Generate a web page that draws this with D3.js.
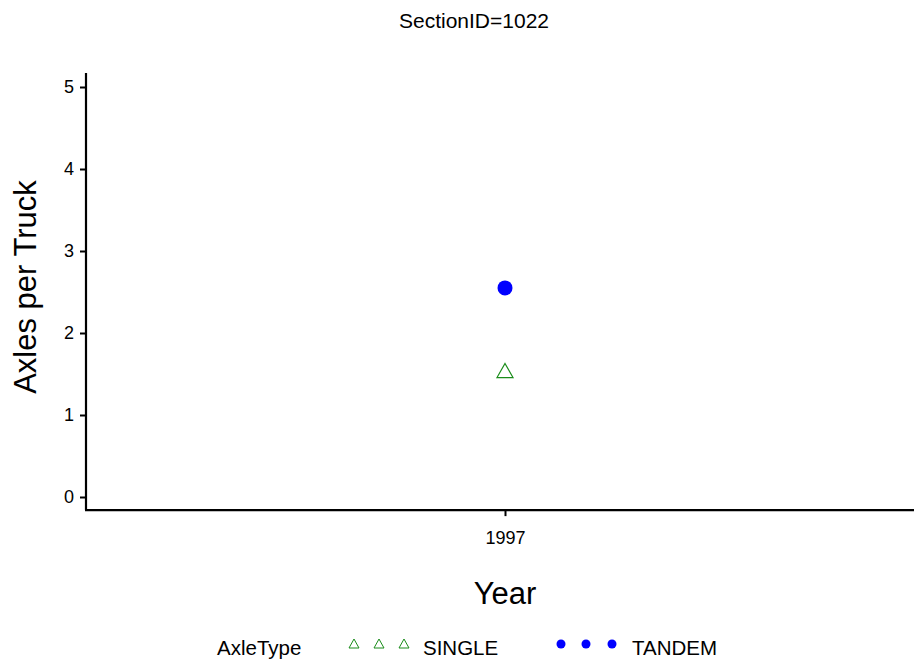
<!DOCTYPE html>
<html>
<head>
<meta charset="utf-8">
<script src="https://cdn.jsdelivr.net/npm/d3@7"></script>
<style>
  body { margin: 0; background: #fff; }
  svg { display: block; font-family: "Liberation Sans", Arial, sans-serif; }
</style>
</head>
<body>
<svg id="chart" width="914" height="663"></svg>
<script>
// data
var years = ["1997"];
var singleVals = [1.53];
var tandemVals = [2.55];
var yTicks = [0, 1, 2, 3, 4, 5];
var legendLabels = ["SINGLE", "TANDEM"];

var svg = d3.select("#chart");

var x = d3.scalePoint().domain(years).range([86, 924]).padding(0.5);
var y = d3.scaleLinear().domain([0, 5]).range([497, 87]);

// axes
var yAxis = svg.append("g")
    .attr("transform", "translate(86,0)")
    .call(d3.axisLeft(y).tickValues(yTicks).tickFormat(d3.format("d"))
      .tickSize(6).tickPadding(6).tickSizeOuter(0));
yAxis.select(".domain").attr("d", "M0," + y(5.17) + "V" + y(-0.16)).attr("stroke-width", 2.2);
yAxis.selectAll(".tick line").attr("stroke-width", 2);
yAxis.selectAll("text").attr("font-size", 18).attr("fill", "#000");

var xAxis = svg.append("g")
    .attr("transform", "translate(0," + y(-0.16) + ")")
    .call(d3.axisBottom(x).tickSize(6).tickPadding(15).tickSizeOuter(0));
xAxis.select(".domain").attr("d", "M85,0H914").attr("stroke-width", 2.2);
xAxis.selectAll(".tick line").attr("stroke-width", 2);
xAxis.selectAll("text").attr("font-size", 18).attr("fill", "#000");

// points
svg.selectAll(".single").data(singleVals).enter().append("path")
    .attr("class", "single")
    .attr("transform", function(d, i) { return "translate(" + x(years[i]) + "," + y(d) + ")"; })
    .attr("d", "M0,-8L8,6L-8,6Z")
    .attr("fill", "none").attr("stroke", "#1a8c1a").attr("stroke-width", 1.2);

svg.selectAll(".tandem").data(tandemVals).enter().append("circle")
    .attr("class", "tandem")
    .attr("cx", function(d, i) { return x(years[i]); })
    .attr("cy", function(d) { return y(d); })
    .attr("r", 7.5)
    .attr("fill", "#0000ff");

// titles
svg.append("text").attr("x", 474).attr("y", 28).attr("text-anchor", "middle")
    .attr("font-size", 21).text("SectionID=1022");
svg.append("text").attr("transform", "translate(36,287) rotate(-90)")
    .attr("text-anchor", "middle").attr("font-size", 31).text("Axles per Truck");
svg.append("text").attr("x", 505).attr("y", 604).attr("text-anchor", "middle")
    .attr("font-size", 31).text("Year");

// legend
var ly = 648;
svg.append("text").attr("x", 217).attr("y", ly + 7).attr("font-size", 20.5).text("AxleType");
[354, 379, 404].forEach(function(cx) {
  svg.append("path").attr("transform", "translate(" + cx + "," + (ly - 4) + ")")
    .attr("d", "M0,-5L5,4L-5,4Z").attr("fill", "none")
    .attr("stroke", "#1a8c1a").attr("stroke-width", 1);
});
svg.append("text").attr("x", 423).attr("y", ly + 7).attr("font-size", 20.5).text(legendLabels[0]);
[561, 586, 612].forEach(function(cx) {
  svg.append("circle").attr("cx", cx).attr("cy", ly - 4).attr("r", 4.5).attr("fill", "#0000ff");
});
svg.append("text").attr("x", 632).attr("y", ly + 7).attr("font-size", 20.5).text(legendLabels[1]);
</script>
</body>
</html>
